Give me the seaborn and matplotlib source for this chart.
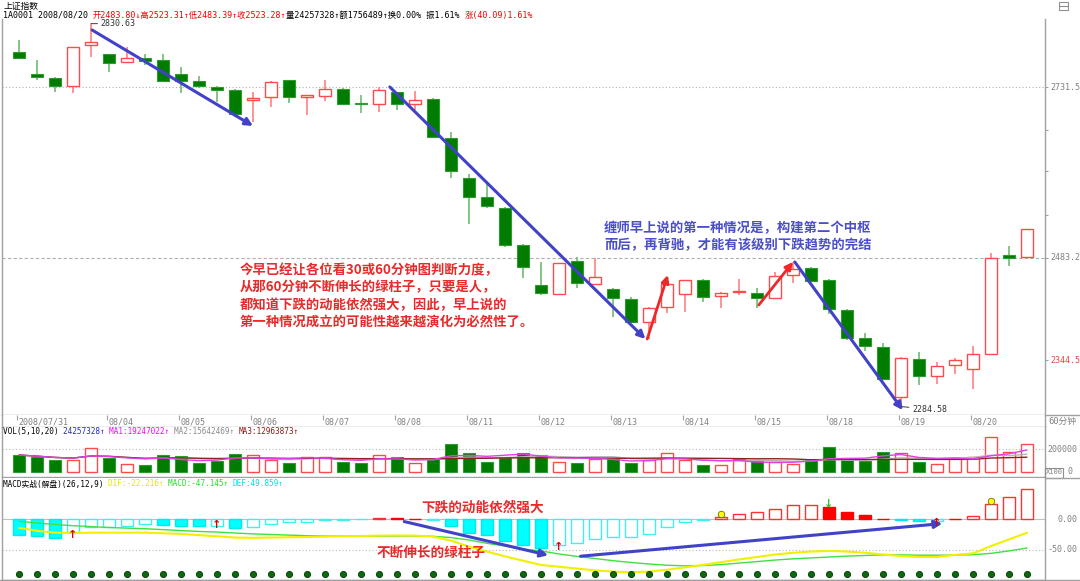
import numpy as np
import pandas as pd
import matplotlib
matplotlib.use("Agg")
import matplotlib.pyplot as plt
import seaborn as sns
from matplotlib.patches import Rectangle
from matplotlib.ticker import FixedLocator, NullFormatter

# ---------------- data ----------------
day_labels = ['2008/07/31', '08/04', '08/05', '08/06', '08/07', '08/08', '08/11',
              '08/12', '08/13', '08/14', '08/15', '08/18', '08/19', '08/20']
day_start = [0, 5, 9, 13, 17, 21, 25, 29, 33, 37, 41, 45, 49, 53]

open_ = [2785.6, 2751.5, 2745.8, 2733.0, 2796.5, 2782.9, 2770.0, 2776.7, 2773.1, 2751.5,
         2741.1, 2732.4, 2727.4, 2712.2, 2717.2, 2742.2, 2716.3, 2717.8, 2728.4, 2707.2,
         2705.7, 2723.9, 2705.7, 2713.7, 2655.5, 2595.9, 2568.5, 2552.6, 2500.8, 2445.4,
         2433.1, 2478.9, 2446.8, 2440.0, 2426.0, 2395.0, 2415.9, 2432.7, 2452.3, 2430.0,
         2435.5, 2434.1, 2427.3, 2458.7, 2468.3, 2452.3, 2411.4, 2373.6, 2362.5, 2297.3,
         2346.2, 2324.4, 2338.3, 2333.1, 2352.8, 2486.8, 2483.80]
high = [2804.8, 2773.6, 2747.8, 2793.9, 2830.63, 2783.0, 2793.4, 2782.5, 2783.0, 2762.3,
        2748.9, 2734.0, 2728.9, 2724.8, 2741.1, 2742.2, 2719.8, 2742.2, 2730.0, 2719.8,
        2732.4, 2724.3, 2725.9, 2715.2, 2664.5, 2601.7, 2588.6, 2554.5, 2502.2, 2477.5,
        2475.7, 2484.6, 2482.3, 2441.4, 2429.5, 2415.5, 2446.8, 2452.5, 2453.7, 2436.3,
        2453.3, 2441.7, 2463.7, 2477.1, 2469.7, 2453.7, 2413.0, 2380.2, 2366.9, 2348.8,
        2355.9, 2342.6, 2348.0, 2363.8, 2489.2, 2499.2, 2523.31]
low = [2775.2, 2742.7, 2724.8, 2722.4, 2778.8, 2755.5, 2770.0, 2765.8, 2739.1, 2722.4,
       2730.0, 2709.6, 2687.0, 2679.5, 2702.0, 2708.1, 2689.4, 2710.7, 2704.6, 2692.5,
       2693.6, 2697.0, 2697.0, 2654.6, 2596.8, 2529.9, 2552.6, 2497.6, 2454.6, 2431.8,
       2432.4, 2441.0, 2446.8, 2402.4, 2393.7, 2372.6, 2407.0, 2409.1, 2422.7, 2414.5,
       2432.2, 2414.2, 2427.0, 2448.6, 2450.0, 2405.6, 2371.3, 2356.8, 2318.8, 2284.58,
       2312.3, 2313.6, 2326.2, 2307.2, 2352.0, 2471.5, 2483.39]
close = [2776.3, 2746.9, 2733.0, 2793.4, 2801.7, 2769.4, 2776.3, 2772.5, 2741.6, 2741.6,
         2733.0, 2727.9, 2690.5, 2715.7, 2740.1, 2717.2, 2719.8, 2728.4, 2705.7, 2705.5,
         2727.4, 2705.7, 2712.2, 2656.1, 2606.6, 2569.3, 2555.9, 2500.8, 2470.6, 2434.1,
         2475.3, 2447.7, 2456.8, 2427.3, 2395.0, 2414.5, 2446.4, 2452.3, 2429.5, 2434.1,
         2437.2, 2427.3, 2457.4, 2467.0, 2451.3, 2412.4, 2374.0, 2363.0, 2320.1, 2347.1,
         2324.4, 2337.4, 2344.5, 2352.8, 2482.2, 2483.19, 2523.28]
volume = [147000, 127000, 103000, 103000, 211000, 123000, 68000, 59000, 147000, 138000,
          74000, 94000, 156000, 144000, 103000, 79000, 132000, 127000, 85000, 79000,
          144000, 127000, 77000, 109000, 244000, 162000, 85000, 127000, 162000, 147000,
          88000, 79000, 109000, 118000, 79000, 103000, 162000, 103000, 59000, 56000,
          109000, 97000, 88000, 68000, 103000, 215000, 112000, 97000, 171000, 162000,
          85000, 68000, 118000, 127000, 303000, 171000, 242573]
hist = [-25.6, -27.2, -30.0, -21.0, -13.0, -12.5, -10.8, -7.0, -9.8, -10.5,
        -11.0, -10.6, -13.5, -12.4, -7.0, -4.9, -3.8, -1.5, -0.5, -0.2,
        1.6, 1.6, 1.2, -1.0, -11.0, -22.0, -26.5, -35.8, -42.4, -46.6,
        -42.3, -39.7, -33.0, -29.3, -28.6, -23.9, -12.4, -4.2, -0.8, 4.0,
        8.8, 11.4, 17.4, 22.8, 23.9, 20.2, 12.0, 7.1, 0.3, -0.6,
        -2.2, -2.0, 0.8, 5.4, 24.9, 36.4, 49.86]
dif = [-14.0, -19.0, -22.0, -22.5, -22.0, -22.0, -22.0, -22.0, -23.0, -24.0,
       -26.0, -28.0, -30.0, -30.5, -30.0, -29.5, -29.0, -28.5, -28.0, -27.5,
       -26.8, -26.5, -26.8, -28.5, -35.0, -45.0, -53.0, -61.0, -68.0, -75.0,
       -78.0, -81.0, -84.0, -86.0, -87.0, -86.0, -83.0, -79.0, -75.0, -70.5,
       -66.0, -62.0, -58.0, -55.0, -53.0, -52.0, -53.0, -55.0, -57.8, -60.5,
       -62.0, -62.0, -58.5, -56.0, -44.0, -33.0, -22.216]
dea = [-3.3, -6.0, -8.5, -10.5, -12.0, -13.5, -14.5, -15.5, -17.0, -18.5,
       -20.0, -21.0, -22.5, -24.0, -25.0, -26.0, -27.0, -27.5, -27.7, -27.7,
       -27.6, -27.5, -27.5, -28.0, -30.0, -34.0, -39.5, -44.0, -49.0, -52.0,
       -57.0, -61.0, -64.5, -68.0, -71.0, -73.5, -75.5, -76.5, -76.0, -74.5,
       -72.0, -69.5, -67.0, -65.0, -63.5, -62.0, -60.5, -59.5, -58.5, -58.5,
       -59.0, -59.0, -58.8, -58.2, -56.0, -52.0, -47.145]

price_ticks = [2344.5, 2483.2, 2731.5]
price_minor = [2543.0, 2606.0, 2667.0]
sig_up_idx, sig_up_val = [3, 11, 30, 51], [-25.0, -9.0, -46.0, -5.5]
sig_dot_idx, sig_dot_val = [39, 54], [9.3, 30.5]
sig_dn_idx, sig_dn_val = [45], [25.6]

# ---------------- style ----------------
sns.set_theme(style="white")
plt.rcParams['font.family'] = ['DejaVu Sans', 'Noto Sans CJK SC']
plt.rcParams['axes.unicode_minus'] = False
MONO = ['DejaVu Sans Mono', 'Noto Sans CJK SC']
CJK = ['Noto Sans CJK SC', 'DejaVu Sans']
GRAY = '#a0a0a0'
LBL = '#808080'
RED = '#ff3c3c'
GREEN = '#007c00'

W, H = 1080, 581
fig = plt.figure(figsize=(W / 100, H / 100), dpi=100)
fig.patch.set_facecolor('white')


def axes_px(x0, y0, x1, y1, **kw):
    return fig.add_axes([x0 / W, 1 - y1 / H, (x1 - x0) / W, (y1 - y0) / H], **kw)


XL = (-0.944, 57.0)
ax = axes_px(2, 19, 1045, 415)
axd = axes_px(2, 415, 1045, 427)
axv = axes_px(2, 427, 1045, 477)
axm = axes_px(2, 478, 1045, 580)

for a in (ax, axd, axv, axm):
    a.set_facecolor('white')
    a.set_xlim(*XL)
    a.set_xticks([])
    for s in a.spines.values():
        s.set_color(GRAY)
        s.set_linewidth(1.0)
    a.spines['top'].set_visible(False)

n = len(close)
x = np.arange(n)
o = np.array(open_); c = np.array(close); hi = np.array(high); lo = np.array(low)
up = c >= o

# ---------------- main candle panel ----------------
ax.set_yscale('log')
ax.set_ylim(2273.8, 2837.9)
ax.yaxis.set_major_locator(FixedLocator(price_ticks))
ax.yaxis.set_minor_locator(FixedLocator(price_minor))
ax.yaxis.set_major_formatter(NullFormatter())
ax.yaxis.set_minor_formatter(NullFormatter())
ax.yaxis.tick_right()
ax.tick_params(axis='y', which='both', length=2, width=0.8, color=GRAY, direction='out')

ax.axhline(2731.5, color='#b0b0b0', lw=0.8, ls=(0, (1, 2)), zorder=0)
ax.axhline(2483.2, color='#b0b0b0', lw=0.8, ls=(0, (3, 2)), zorder=0)

ax.vlines(x[up], lo[up], hi[up], color='#ff8a8a', lw=1.3, zorder=1)
ax.vlines(x[~up], lo[~up], hi[~up], color='#7cc07c', lw=1.3, zorder=1)
bot = np.minimum(o, c); top = np.maximum(o, c)
ax.bar(x[up], top[up] - bot[up], bottom=bot[up], width=0.72, facecolor='white',
       edgecolor='#ff4a4a', linewidth=1.0, zorder=2)
ax.bar(x[~up], top[~up] - bot[~up], bottom=bot[~up], width=0.72, facecolor=GREEN,
       edgecolor='#2f9a2f', linewidth=0.8, zorder=2)

for v, col in zip(price_ticks, [RED, LBL, LBL]):
    ax.text(1 + 5 / 1043, v, f'{v:.1f}', transform=ax.get_yaxis_transform(), ha='left',
            va='center', fontsize=6, color=col, family=MONO)

imax = int(np.argmax(hi)); imin = int(np.argmin(lo))
ax.annotate(f'{hi[imax]:.2f}', xy=(imax, hi[imax]), xytext=(7, 0), textcoords='offset points',
            fontsize=6, color='#333333', family=MONO, va='center', ha='left',
            arrowprops=dict(arrowstyle='-', color='#555555', lw=0.8, shrinkA=0, shrinkB=0))
ax.annotate(f'{lo[imin]:.2f}', xy=(imin, lo[imin]), xytext=(8, -2), textcoords='offset points',
            fontsize=6, color='#333333', family=MONO, va='center', ha='left',
            arrowprops=dict(arrowstyle='-', color='#555555', lw=0.8, shrinkA=0, shrinkB=0))

BLUE = '#4242c8'
ARED = '#e82a2a'


def arrow(a, p0, p1, color, lw=2.2):
    a.annotate('', xy=p1, xytext=p0,
               arrowprops=dict(arrowstyle='-|>', color=color, lw=lw, mutation_scale=11,
                               shrinkA=0, shrinkB=0), zorder=5)


arrow(ax, (4.06, 2820.5), (13.0, 2673.0), BLUE)
arrow(ax, (20.6, 2732.0), (34.8, 2372.6), BLUE)
arrow(ax, (34.9, 2372.6), (36.05, 2459.1), ARED, 2.0)
arrow(ax, (41.1, 2418.2), (43.0, 2477.1), ARED, 2.0)
arrow(ax, (43.1, 2477.1), (49.1, 2280.0), BLUE)

# ---------------- date row ----------------
axd.set_ylim(0, 1)
axd.set_yticks([])
axd.spines['left'].set_visible(True)
for s, lab in zip(day_start, day_labels):
    axd.vlines(s - 0.12, 0.55, 1.0, color=GRAY, lw=0.8)
    axd.text(s - 0.02, 0.42, lab, fontsize=6, color=LBL, family=MONO, ha='left', va='center')

# ---------------- volume panel ----------------
vol = np.array(volume, dtype=float)
vol_up = np.r_[c[0] >= o[0], c[1:] > c[:-1]]
axv.set_ylim(-46700, 393900)
axv.set_yticks([])
axv.axhline(200000, color='#b8b8b8', lw=0.8, ls=(0, (1, 2)), zorder=0)
axv.bar(x[vol_up], vol[vol_up], width=0.7, facecolor='white', edgecolor='#ff4a4a',
        linewidth=1.0, zorder=2)
axv.bar(x[~vol_up], vol[~vol_up], width=0.7, facecolor=GREEN, edgecolor='#2f9a2f',
        linewidth=0.8, zorder=2)
vs = pd.Series(vol)
ma5 = vs.rolling(5, min_periods=1).mean().values
ma10 = vs.rolling(10, min_periods=1).mean().values
ma20 = vs.rolling(20, min_periods=1).mean().values
sns.lineplot(x=x, y=ma10, ax=axv, color='#b4b4b4', linewidth=1.0, zorder=3)
sns.lineplot(x=x, y=ma20, ax=axv, color='#8b2323', linewidth=1.0, zorder=3)
sns.lineplot(x=x, y=ma5, ax=axv, color='#e040e0', linewidth=1.0, zorder=3)
axv.set_xlim(*XL)
axv.set_ylim(-46700, 393900)
axv.set_xlabel(''); axv.set_ylabel('')
axv.text(1 + 2 / 1043, 200000, '200000', transform=axv.get_yaxis_transform(), ha='left',
         va='center', fontsize=6, color=LBL, family=MONO)
axv.text(1 + 23 / 1043, 0, '0', transform=axv.get_yaxis_transform(), ha='left',
         va='center', fontsize=6, color=LBL, family=MONO)

# ---------------- MACD panel ----------------
h = np.array(hist)
prev = np.r_[0.0, h[:-1]]
grow = np.abs(h) > np.abs(prev)
pos = h >= 0
axm.set_ylim(-99.8, 67.9)
axm.set_yticks([])
axm.axhline(0, color='#c0c0c0', lw=0.8, zorder=0)
axm.axhline(-50, color='#b8b8b8', lw=0.8, ls=(0, (1, 2)), zorder=0)
m = pos & grow
axm.bar(x[m], h[m], width=0.62, facecolor='white', edgecolor='#ff3030', linewidth=1.0, zorder=2)
m = pos & ~grow
axm.bar(x[m], h[m], width=0.62, facecolor='#ff0000', edgecolor='#ff0000', linewidth=1.0, zorder=2)
m = ~pos & grow
axm.bar(x[m], h[m], width=0.62, facecolor='#00ffff', edgecolor='#00eaea', linewidth=1.0, zorder=2)
m = ~pos & ~grow
axm.bar(x[m], h[m], width=0.62, facecolor='white', edgecolor='#3ff0f0', linewidth=1.0, zorder=2)
sns.lineplot(x=x, y=np.array(dea), ax=axm, color='#40e040', linewidth=1.0, zorder=3)
sns.lineplot(x=x, y=np.array(dif), ax=axm, color='#f0f000', linewidth=1.5, zorder=3)
DOT_Y = -90.0
sns.scatterplot(x=x, y=np.full(n, DOT_Y), ax=axm, color='#0b6b0b', s=20,
                edgecolor='#053805', linewidth=0.6, zorder=4)
axm.set_xlim(*XL)
axm.set_ylim(-99.8, 67.9)
axm.set_xlabel(''); axm.set_ylabel('')
for i, v in zip(sig_up_idx, sig_up_val):
    axm.text(i, v, '↑', color='#e00000', fontsize=8, fontweight='bold', ha='center', va='center',
             family=['DejaVu Sans'], zorder=6)
for i, v in zip(sig_dn_idx, sig_dn_val):
    axm.text(i, v, '↓', color='#30c030', fontsize=8, fontweight='bold', ha='center', va='center',
             family=['DejaVu Sans'], zorder=6)
sns.scatterplot(x=sig_dot_idx, y=sig_dot_val, ax=axm, color='#ffff00', s=22,
                edgecolor='#6a6a20', linewidth=0.6, zorder=6)
axm.set_xlim(*XL)
axm.set_ylim(-99.8, 67.9)
axm.set_xlabel(''); axm.set_ylabel('')
axm.text(1 + 33 / 1043, 0, '0.00', transform=axm.get_yaxis_transform(), ha='right',
         va='center', fontsize=6, color=LBL, family=MONO)
axm.text(1 + 33 / 1043, -50, '-50.00', transform=axm.get_yaxis_transform(), ha='right',
         va='center', fontsize=6, color=LBL, family=MONO)
arrow(axm, (21.4, -3.7), (29.4, -59.1), BLUE)
arrow(axm, (31.2, -60.7), (51.3, -7.0), BLUE)

# ---------------- overlay (texts in pixel coords) ----------------
ov = axes_px(0, 0, W, H, zorder=20)
ov.set_xlim(0, W); ov.set_ylim(H, 0); ov.axis('off'); ov.patch.set_alpha(0)


def chain(x0, y0, pieces, size=6, fam=MONO):
    t = ov.text(x0, y0, pieces[0][0], color=pieces[0][1], fontsize=size, family=fam,
                ha='left', va='center')
    for s, col in pieces[1:]:
        t = ov.annotate(s, xy=(1, 0.5), xycoords=t, color=col, fontsize=size, family=fam,
                        ha='left', va='center')
    return t


ov.text(3, 6, '上证指数', fontsize=6.3, color='#000000', family=CJK, ha='left', va='center')
chain(3, 15.5, [('1A0001 2008/08/20 ', '#000000'),
                ('开2483.80↓高2523.31↑低2483.39↑收2523.28↑', '#f00000'),
                ('量24257328↑额1756489↑换0.00% 振1.61% ', '#000000'),
                ('涨(40.09)1.61%', '#f00000')])
chain(3, 431.5, [('VOL(5,10,20) ', '#000000'), ('24257328↑ ', '#2828c8'),
                 ('MA1:19247022↑ ', '#ff00ff'), ('MA2:15642469↑ ', '#8c8c8c'),
                 ('MA3:12963873↑', '#8b1a1a')], size=5.6)
chain(3, 484, [('MACD实战(解盘)(26,12,9) ', '#000000'), ('DIF:-22.216↑ ', '#e6e600'),
               ('MACD:-47.145↑ ', '#22dd22'), ('DEF:49.859↑', '#00e0e0')], size=5.6)

ov.text(1048, 421, '60分钟', fontsize=6.3, color=LBL, family=MONO, ha='left', va='center')
ov.add_patch(Rectangle((1045, 467.5), 18, 10, fill=False, ec='#909090', lw=0.8))
ov.text(1054, 472.5, 'X100', fontsize=5, color=LBL, family=MONO, ha='center', va='center')
ov.add_patch(Rectangle((1059, 1.5), 9, 8, fill=False, ec='#909090', lw=0.8))
ov.plot([1059, 1068], [5.5, 5.5], color='#909090', lw=0.8)
# separators extending to the right edge
ov.plot([1045, 1080], [415, 415], color=GRAY, lw=1)
ov.plot([1045, 1080], [477.5, 477.5], color=GRAY, lw=1)
ov.plot([0, 1080], [580, 580], color=GRAY, lw=1)

red_lines = ['今早已经让各位看30或60分钟图判断力度，',
             '从那60分钟不断伸长的绿柱子，只要是人，',
             '都知道下跌的动能依然强大，因此，早上说的',
             '第一种情况成立的可能性越来越演化为必然性了。']
for k, s in enumerate(red_lines):
    ov.text(240, 270 + 17.6 * k, s, fontsize=9.6, fontweight='bold', color=ARED, family=CJK,
            ha='left', va='center')
blue_lines = ['缠师早上说的第一种情况是，构建第二个中枢',
              '而后，再背驰，才能有该级别下跌趋势的完结']
for k, s in enumerate(blue_lines):
    ov.text(604, 228 + 17.6 * k, s, fontsize=9.6, fontweight='bold', color='#4a4ec8', family=CJK,
            ha='left', va='center')
ov.text(421, 508, '下跌的动能依然强大', fontsize=9.8, fontweight='bold', color=ARED, family=CJK,
        ha='left', va='center')
ov.text(377, 553, '不断伸长的绿柱子', fontsize=9.8, fontweight='bold', color=ARED, family=CJK,
        ha='left', va='center')

fig.savefig('out.png', dpi=100, facecolor='white')
